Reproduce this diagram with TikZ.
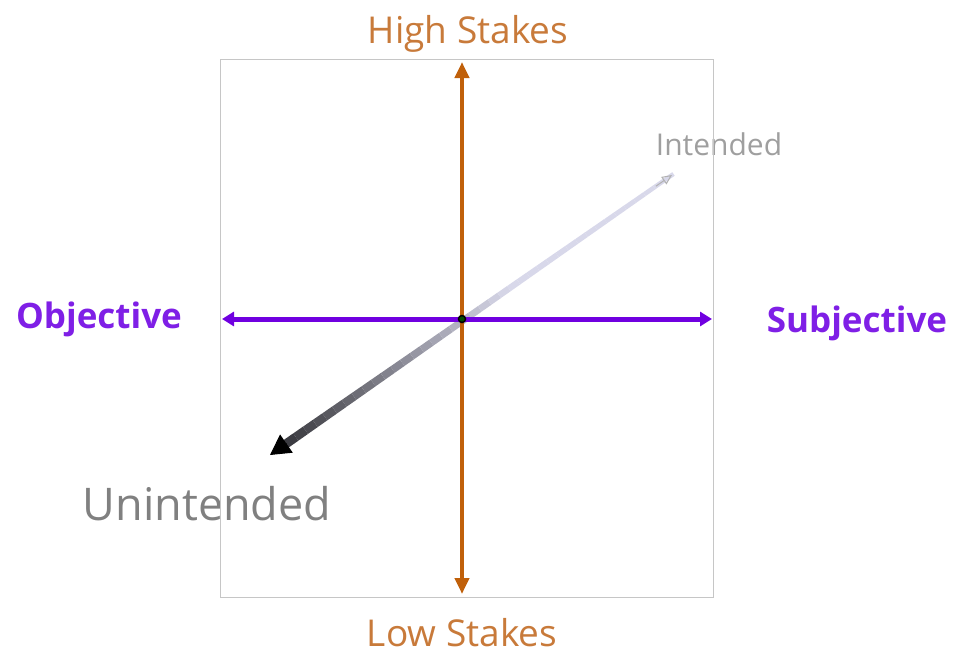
\documentclass[tikz,border=0pt]{standalone}
\usepackage{fontspec}
\setmainfont{Open Sans}
\usetikzlibrary{arrows.meta, calc}

\definecolor{stakes}{HTML}{C0600A}
\definecolor{stakestext}{HTML}{C87A3A}
\definecolor{axispurple}{HTML}{7000E0}
\definecolor{purpletext}{HTML}{7F1FE6}
\definecolor{lavender}{HTML}{D8D8EA}

\begin{document}
\begin{tikzpicture}[x=1pt, y=-1pt, >=Stealth,
    frame/.style={draw=gray!45, line width=0.8pt},
    axislabel/.style={font=\fontsize{37}{40}\selectfont, inner sep=0pt, anchor=base}]
    \useasboundingbox (0,0) rectangle (954,654);
    % axis end points
    \coordinate (hi) at (462,62);
    \coordinate (lo) at (462,594);
    \coordinate (obj) at (222,319);
    \coordinate (subj) at (712,319);
    \coordinate (ctr) at (462,319);
    \coordinate (unint) at (270,455);
    \coordinate (int) at (672,175);
    % labels
    \node[axislabel, stakestext] (high) at (468,43) {High Stakes};
    \node[axislabel, stakestext] (low) at (462,646) {Low Stakes};
    \node[axislabel, purpletext, font=\bfseries\fontsize{35}{38}\selectfont] (objective) at (99,328) {Objective};
    \node[axislabel, purpletext, font=\bfseries\fontsize{35}{38}\selectfont] (subjective) at (857,332) {Subjective};
    \node[axislabel, gray!75, font=\fontsize{30}{34}\selectfont] (intended) at (719,155) {Intended};
    \node[axislabel, gray, font=\fontsize{45}{48}\selectfont] (unintended) at (207,520) {Unintended};
    \draw[frame] (220,59) rectangle (713,597);
    % diagonal, shaded piece by piece
    \foreach \i in {0,...,39}{
        \pgfmathsetmacro{\tone}{max(0, 72 - \i*3.2)}
        \pgfmathsetmacro{\lw}{9 - \i*0.12}
        \draw[line width=\lw pt, black!\tone!lavender, line cap=butt]
            ($(unint)!{0.04 + \i*0.0241}!(int)$) -- ($(unint)!{0.04 + (\i+1)*0.0241}!(int)$);
    }
    \draw[-{Triangle[length=20pt, width=22pt]}, line width=1pt, black]
        ($(unint)!0.041!(int)$) -- (unint);
    \draw[-{Triangle[open, length=10pt, width=9pt]}, line width=1pt, gray!60]
        ($(unint)!0.96!(int)$) -- (int);
    % axes
    \draw[{Triangle[length=16pt, width=14pt]}-{Triangle[length=16pt, width=14pt]}, stakes, line width=4.5pt]
        (hi) -- (lo);
    \draw[{Triangle[length=12pt, width=14pt]}-{Triangle[length=12pt, width=14pt]}, axispurple, line width=5pt]
        (obj) -- (subj);
    \draw[fill=black!70!green, line width=1.5pt] (ctr) circle (3.5pt);
\end{tikzpicture}
\end{document}
